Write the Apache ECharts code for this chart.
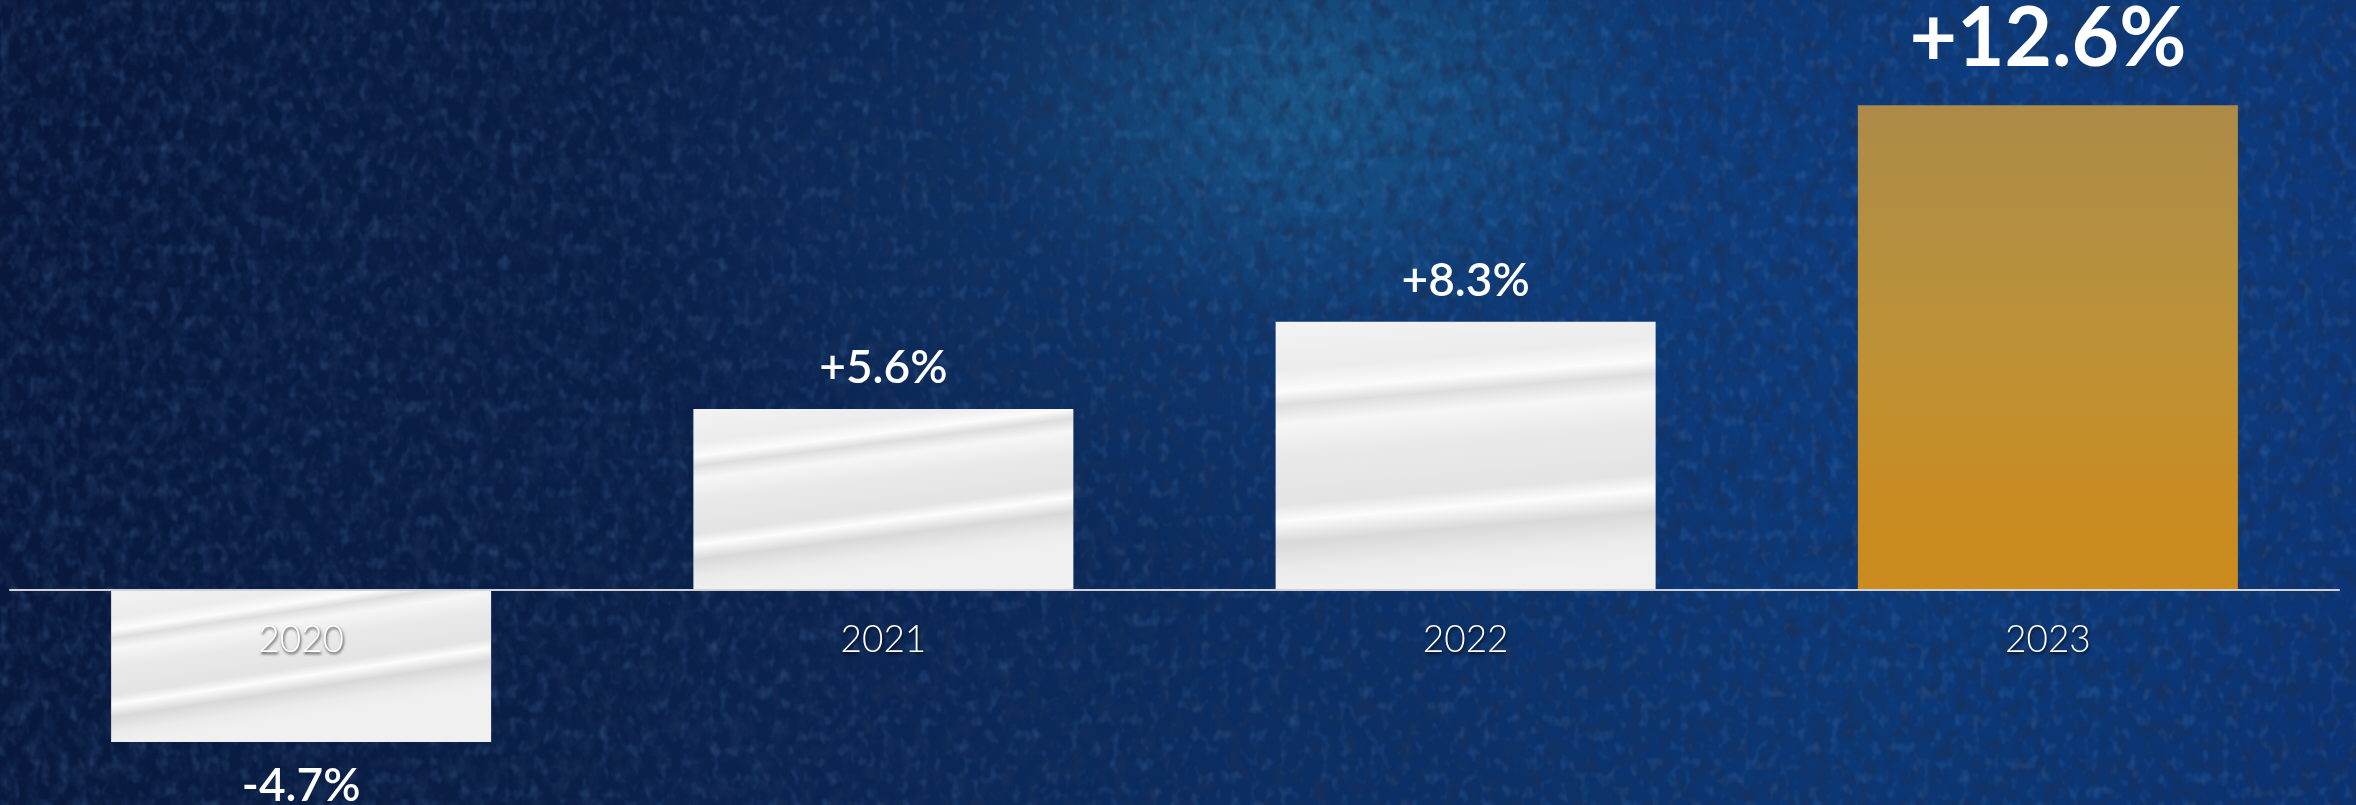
<!DOCTYPE html>
<html>
<head>
<meta charset="utf-8">
<script src="https://cdn.jsdelivr.net/npm/echarts@6/dist/echarts.min.js"></script>
<style>
html,body{margin:0;padding:0;width:2356px;height:805px;overflow:hidden;background:#071634;}
#bg{position:absolute;left:0;top:0;width:2356px;height:805px;
background:
 radial-gradient(ellipse 360px 240px at 1320px 90px, rgba(40,125,160,0.42), rgba(40,125,160,0) 100%),
 radial-gradient(ellipse 650px 400px at 1250px 170px, rgba(22,85,150,0.38), rgba(22,85,150,0) 100%),
 radial-gradient(ellipse 900px 650px at 2000px 250px, rgba(16,70,145,0.50), rgba(16,70,145,0) 100%),
 linear-gradient(100deg, #08173a 0%, #0a2049 30%, #0b2d62 55%, #0b3672 80%, #0a3170 100%);}
#tex{position:absolute;left:0;top:0;width:2356px;height:805px;opacity:0.7;
background-image:url("data:image/svg+xml;utf8,<svg xmlns='http://www.w3.org/2000/svg' width='2356' height='805'><filter id='n' x='0' y='0' width='100%25' height='100%25'><feTurbulence type='fractalNoise' baseFrequency='0.07 0.05' numOctaves='3' seed='7'/><feColorMatrix values='0 0 0 0 0.01  0 0 0 0 0.03  0 0 0 0 0.10  2.4 0 0 0 -1.0'/></filter><rect width='100%25' height='100%25' filter='url(%23n)'/></svg>");}
#tex2{position:absolute;left:0;top:0;width:2356px;height:805px;opacity:0.22;
background-image:url("data:image/svg+xml;utf8,<svg xmlns='http://www.w3.org/2000/svg' width='2356' height='805'><filter id='m' x='0' y='0' width='100%25' height='100%25'><feTurbulence type='fractalNoise' baseFrequency='0.10 0.07' numOctaves='2' seed='3'/><feColorMatrix values='0 0 0 0 0.15  0 0 0 0 0.38  0 0 0 0 0.80  0 2.2 0 0 -1.15'/></filter><rect width='100%25' height='100%25' filter='url(%23m)'/></svg>");}
#chart{position:absolute;left:0;top:0;width:2356px;height:805px;}
</style>
</head>
<body>
<div id="bg"></div>
<div id="tex"></div>
<div id="tex2"></div>
<div id="chart"></div>
<script>
// ---- data ----
const categories = ['2020', '2021', '2022', '2023'];
// growth values as labelled in the picture
const growth = [-4.7, 5.6, 8.3, 12.6];
// bar heights as drawn in the picture (the 2023 bar is drawn taller than its label)
const barHeights = [-4.7, 5.6, 8.3, 15.0];

// ---- styles ----
const whiteGrad = new echarts.graphic.LinearGradient(0, 0, 0.06, 1, [
  {offset: 0.00, color: '#f3f3f3'},
  {offset: 0.18, color: '#ececec'},
  {offset: 0.26, color: '#fbfbfb'},
  {offset: 0.31, color: '#dedede'},
  {offset: 0.38, color: '#f6f6f6'},
  {offset: 0.50, color: '#e9e9e9'},
  {offset: 0.68, color: '#e4e4e4'},
  {offset: 0.74, color: '#fcfcfc'},
  {offset: 0.82, color: '#d9d9d9'},
  {offset: 0.92, color: '#ebebeb'},
  {offset: 1.00, color: '#f0f0f0'}
]);
const goldGrad = new echarts.graphic.LinearGradient(0, 0, 0, 1, [
  {offset: 0.00, color: '#ad8a47'},
  {offset: 0.30, color: '#b6903e'},
  {offset: 0.55, color: '#bf9133'},
  {offset: 0.80, color: '#c88c23'},
  {offset: 1.00, color: '#cb8b1d'}
]);
function fmt(v){ return (v > 0 ? '+' : '') + v.toFixed(1) + '%'; }

const seriesData = barHeights.map((v, i) => {
  const big = i === categories.length - 1;
  return {
    value: v,
    itemStyle: {color: big ? goldGrad : whiteGrad},
    label: {
      show: true,
      position: v < 0 ? 'bottom' : 'top',
      distance: big ? 25 : (v < 0 ? 21 : 18),
      formatter: fmt(growth[i]),
      color: '#ffffff',
      fontFamily: 'Lato',
      fontWeight: big ? 700 : 600,
      fontSize: big ? 82 : 46,
      lineHeight: big ? 82 : 46
    }
  };
});

const bigBounds = {left: -500, right: -500, top: -500, bottom: -500};
const chart = echarts.init(document.getElementById('chart'), null, {renderer: 'canvas'});
chart.setOption({
  backgroundColor: 'transparent',
  animation: false,
  grid: [
    // main plotting grid (value 0 sits at y = 590)
    {left: 10, right: 17, top: 73, bottom: 21, containLabel: false, outerBounds: bigBounds},
    // label grid: its bottom edge is the zero line, so category labels sit just under it
    {left: 10, right: 17, top: 73, bottom: 215, containLabel: false, outerBounds: bigBounds}
  ],
  xAxis: [
    {
      type: 'category',
      gridIndex: 0,
      data: categories,
      z: 10,
      axisLine: {onZero: true, lineStyle: {color: '#cfd2d6', width: 2}},
      axisTick: {show: false},
      axisLabel: {show: false}
    },
    {
      type: 'category',
      gridIndex: 1,
      data: categories,
      z: 10,
      axisLine: {show: false},
      axisTick: {show: false},
      axisLabel: {
        show: true,
        interval: 0,
        margin: 32,
        fontFamily: 'Lato',
        fontWeight: 300,
        fontSize: 37,
        color: '#ffffff',
        textShadowColor: 'rgba(0,0,0,0.75)',
        textShadowBlur: 3,
        textShadowOffsetX: 1,
        textShadowOffsetY: 2
      }
    }
  ],
  yAxis: [
    {type: 'value', gridIndex: 0, min: -6, max: 16, show: false, splitLine: {show: false}},
    {type: 'value', gridIndex: 1, min: 0, max: 1, show: false, splitLine: {show: false}}
  ],
  series: [{
    type: 'bar',
    xAxisIndex: 0,
    yAxisIndex: 0,
    barWidth: 380,
    data: seriesData
  }]
});
</script>
</body>
</html>
